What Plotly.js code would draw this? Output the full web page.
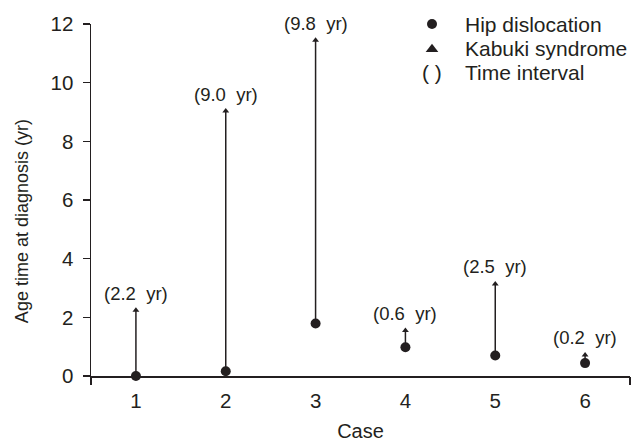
<!DOCTYPE html>
<html><head><meta charset="utf-8">
<script src="https://cdn.plot.ly/plotly-3.0.1.min.js"></script>
<style>html,body{margin:0;padding:0;background:#fff}#c{width:631px;height:442px}</style>
</head><body><div id="c"></div>
<script>
const cases = [1, 2, 3, 4, 5, 6];
const hipAge = [0.0, 0.16, 1.79, 0.98, 0.70, 0.44];
const kabukiAge = [2.24, 9.03, 11.45, 1.55, 3.14, 0.72];
const intervalLabels = ['2.2', '9.0', '9.8', '0.6', '2.5', '0.2'];
const tickLabels = ['1', '2', '3', '4', '5', '6'];
const legendNames = ['Hip dislocation', 'Kabuki syndrome', 'Time interval'];
const yTitle = 'Age time at diagnosis (yr)';

const ink = '#231f20';
const font = 'Liberation Sans, Arial, sans-serif';

const segX = [], segY = [];
cases.forEach((c, i) => { segX.push(c, c, null); segY.push(hipAge[i], kabukiAge[i], null); });

// legend block laid out in pixel units on a hidden overlay axis
const legX = 432, legTextX = 463, legY0 = 24, legDy = 24.3;
const legRows = legendNames.map((_, i) => legY0 + i * legDy);

const traces = [
  {x: segX, y: segY, mode: 'lines', line: {color: ink, width: 1.5}, showlegend: false, hoverinfo: 'skip', cliponaxis: false},
  {x: cases, y: hipAge, mode: 'markers', marker: {symbol: 'circle', size: 10, color: ink}, cliponaxis: false, showlegend: false},
  {x: cases, y: kabukiAge, mode: 'markers', marker: {symbol: 'triangle-up', size: 6, color: ink}, cliponaxis: false, showlegend: false},
  {x: [], y: [], xaxis: 'x2', yaxis: 'y', mode: 'markers', showlegend: false, hoverinfo: 'skip'},
  {x: [legX], y: [legRows[0]], xaxis: 'x3', yaxis: 'y3', mode: 'markers', marker: {symbol: 'circle', size: 10, color: ink}, showlegend: false, cliponaxis: false},
  {x: [legX], y: [legRows[1] + 1], xaxis: 'x3', yaxis: 'y3', mode: 'markers', marker: {symbol: 'triangle-up', size: 11, color: ink}, showlegend: false, cliponaxis: false}
];

const annotations = cases.map((c, i) => ({
  x: c, y: kabukiAge[i], xref: 'x', yref: 'y', text: '(' + intervalLabels[i] + '\u00a0 yr)',
  showarrow: false, yanchor: 'middle', yshift: 17, font: {family: font, size: 18.5, color: ink}
}));
legendNames.forEach((n, i) => annotations.push({x: legTextX, y: legRows[i], xref: 'x3', yref: 'y3', text: n,
  showarrow: false, xanchor: 'left', yanchor: 'middle', font: {family: font, size: 21, color: ink}}));
annotations.push({x: legX, y: legRows[2], xref: 'x3', yref: 'y3', text: '( )', showarrow: false,
  xanchor: 'center', yanchor: 'middle', font: {family: font, size: 21, color: ink}});
annotations.push({x: -0.128, y: 0.44, xref: 'paper', yref: 'paper', text: yTitle, textangle: -90, showarrow: false,
  xanchor: 'center', yanchor: 'middle', font: {family: font, size: 18, color: ink}});

const layout = {
  width: 631, height: 442,
  margin: {l: 91, r: 1, t: 24, b: 66},
  paper_bgcolor: '#fff', plot_bgcolor: '#fff',
  font: {family: font, size: 20, color: ink},
  showlegend: false,
  xaxis: {range: [0.5, 6.5], tickvals: cases, ticktext: tickLabels, ticks: '', showline: true,
    linecolor: ink, linewidth: 1.5, showgrid: false, zeroline: false, automargin: false,
    tickfont: {family: font, size: 20.5, color: ink}, ticklabelstandoff: 6,
    title: {text: 'Case', font: {family: font, size: 20, color: ink}, standoff: 14}},
  xaxis2: {overlaying: 'x', range: [0.5, 6.5], tickvals: [0.5, 6.5], ticktext: ['', ''], ticks: 'outside',
    ticklen: 8, tickwidth: 1.5, tickcolor: ink, showline: false, showgrid: false, zeroline: false, side: 'bottom', anchor: 'y'},
  xaxis3: {domain: [0, 1], range: [91, 630], visible: false, anchor: 'y3', overlaying: 'x'},
  yaxis3: {domain: [0, 1], range: [375.7, 24], visible: false, anchor: 'x3', overlaying: 'y'},
  yaxis: {range: [0, 12], dtick: 2, ticks: 'outside', ticklen: 7, tickwidth: 1.5, tickcolor: ink,
    showline: true, linecolor: ink, linewidth: 1.5, showgrid: false, zeroline: false, automargin: false,
    tickfont: {family: font, size: 20.5, color: ink}, ticklabelstandoff: 5},
  annotations: annotations
};
Plotly.newPlot('c', traces, layout, {displayModeBar: false, staticPlot: true});
</script></body></html>
